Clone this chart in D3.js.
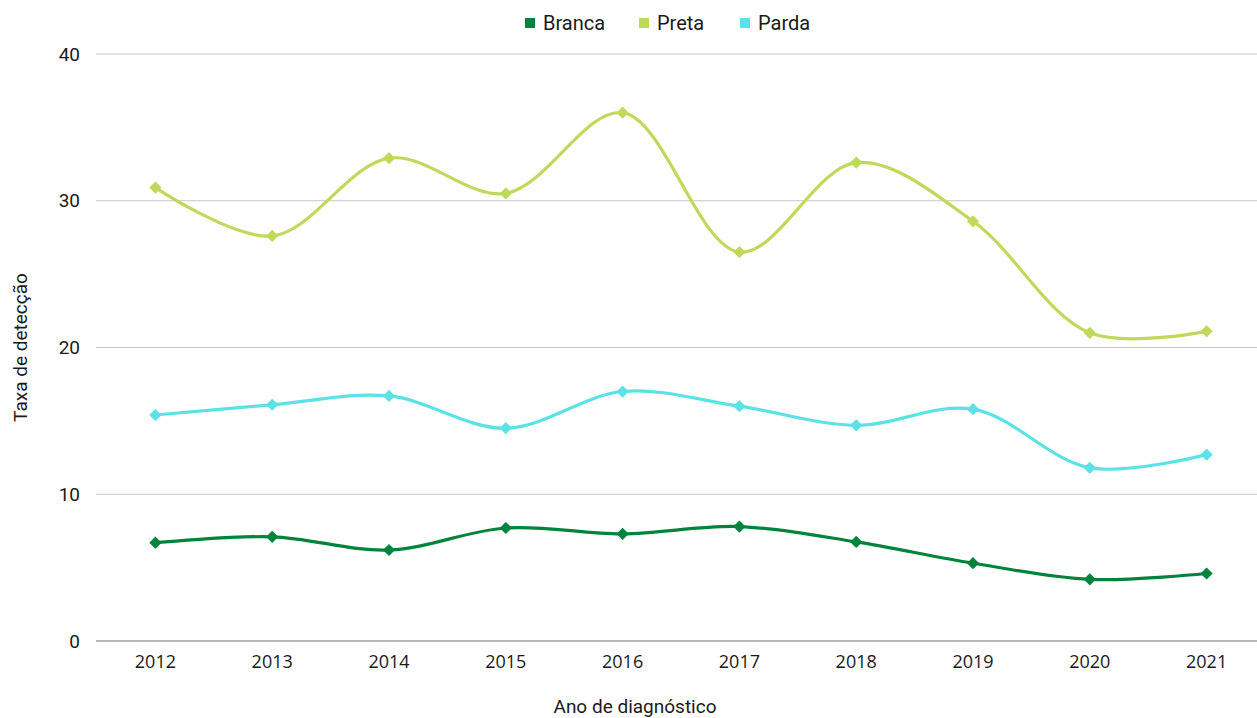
<!DOCTYPE html>
<html lang="pt">
<head>
<meta charset="UTF-8">
<title>Taxa de detecção por raça/cor</title>
<script src="https://d3js.org/d3.v7.min.js"></script>
<style>
  body { margin: 0; background: #fff; }
  text { font-family: Roboto, "Noto Sans", sans-serif; fill: #1a1a1a; }
</style>
</head>
<body>
<script>
// dados
var anos = ['2012','2013','2014','2015','2016','2017','2018','2019','2020','2021'];
var branca = [6.7, 7.1, 6.2, 7.7, 7.3, 7.8, 6.75, 5.3, 4.2, 4.6];
var preta  = [30.9, 27.6, 32.9, 30.5, 36.0, 26.5, 32.6, 28.6, 21.0, 21.1];
var parda  = [15.4, 16.1, 16.7, 14.5, 17.0, 16.0, 14.7, 15.8, 11.8, 12.7];
var yTicks = [0, 10, 20, 30, 40];

var series = [
  { nome: 'Branca', valores: branca, cor: '#00843d' },
  { nome: 'Preta',  valores: preta,  cor: '#bfd95b' },
  { nome: 'Parda',  valores: parda,  cor: '#5ce1e6' }
];

var w = 1257, h = 718;
var margin = { top: 54, right: 0, bottom: 77, left: 96 };

var svg = d3.select('body').append('svg')
  .attr('width', w)
  .attr('height', h);

// a area do grafico passa um pouco da borda direita
var x = d3.scaleBand()
  .domain(anos)
  .range([97, 1265]);

var y = d3.scaleLinear()
  .domain([0, 40])
  .range([h - margin.bottom, margin.top]);

// grade
svg.append('g')
  .selectAll('line')
  .data(yTicks.slice(1))
  .enter().append('line')
  .attr('x1', margin.left)
  .attr('x2', w)
  .attr('y1', function(d) { return y(d); })
  .attr('y2', function(d) { return y(d); })
  .attr('stroke', '#c6c6c6')
  .attr('stroke-width', 1);

// eixo y
var yAxis = d3.axisLeft(y).tickValues(yTicks).tickSize(0).tickPadding(16);
var gy = svg.append('g')
  .attr('transform', 'translate(' + margin.left + ',0)')
  .call(yAxis);
gy.select('.domain').remove();
gy.selectAll('text')
  .style('font-size', '19px')
  .style('font-family', 'Roboto, sans-serif')
  .attr('fill', '#1a1a1a');

// eixo x
var xAxis = d3.axisBottom(x).tickSize(0).tickPadding(14);
var gx = svg.append('g')
  .attr('transform', 'translate(0,' + y(0) + ')')
  .call(xAxis);
gx.select('.domain').attr('d', 'M' + margin.left + ',0H' + w)
  .attr('stroke', '#6e6e6e').attr('stroke-width', 1.2);
gx.selectAll('text')
  .style('font-size', '18px')
  .style('font-family', '"Open Sans", sans-serif')
  .attr('fill', '#1a1a1a');

// linhas
var linha = d3.line()
  .x(function(d, i) { return x(anos[i]) + x.bandwidth() / 2; })
  .y(function(d) { return y(d); })
  .curve(d3.curveCatmullRom.alpha(0.5));

var losango = d3.symbol().type(d3.symbolDiamond2).size(95);

series.forEach(function(s) {
  svg.append('path')
    .datum(s.valores)
    .attr('d', linha)
    .attr('fill', 'none')
    .attr('stroke', s.cor)
    .attr('stroke-width', 3.2);

  svg.append('g')
    .selectAll('path')
    .data(s.valores)
    .enter().append('path')
    .attr('d', losango)
    .attr('transform', function(d, i) {
      return 'translate(' + (x(anos[i]) + x.bandwidth() / 2) + ',' + y(d) + ')';
    })
    .attr('fill', s.cor);
});

// titulos dos eixos
svg.append('text')
  .attr('transform', 'translate(27,' + ((margin.top + h - margin.bottom) / 2) + ') rotate(-90)')
  .attr('text-anchor', 'middle')
  .style('font-size', '19px')
  .text('Taxa de detecção');

svg.append('text')
  .attr('x', 635)
  .attr('y', 713)
  .attr('text-anchor', 'middle')
  .style('font-size', '19px')
  .text('Ano de diagnóstico');

// legenda
var leg = svg.append('g').attr('transform', 'translate(525,23)');
var offsets = [0, 114, 215];
series.forEach(function(s, i) {
  var g = leg.append('g').attr('transform', 'translate(' + offsets[i] + ',0)');
  g.append('rect')
    .attr('x', 0).attr('y', -5)
    .attr('width', 10).attr('height', 10)
    .attr('fill', s.cor);
  g.append('text')
    .attr('x', 18).attr('y', 7)
    .style('font-size', '20px')
    .text(s.nome);
});
</script>
</body>
</html>
